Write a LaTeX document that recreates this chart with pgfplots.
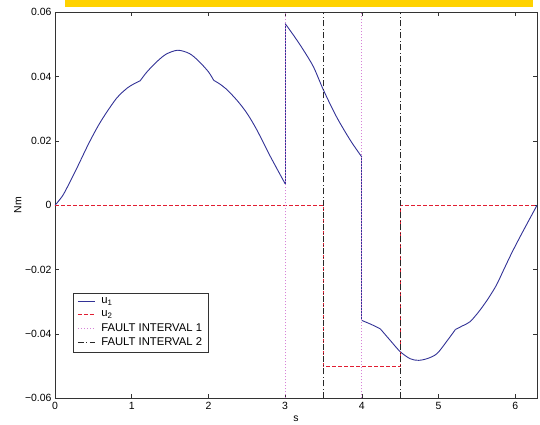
\documentclass[border=0pt]{standalone}
\usepackage{fontspec}
\setmainfont{Liberation Sans}
\usepackage{pgfplots}
\pgfplotsset{compat=1.18}

\definecolor{ucolA}{RGB}{50,50,150}
\definecolor{ucolB}{RGB}{225,30,50}
\definecolor{faultA}{RGB}{215,130,215}
\definecolor{faultB}{RGB}{40,40,40}
\definecolor{banner}{RGB}{255,210,0}

\pgfplotsset{
  u1 style/.style={ucolA, line width=0.9bp, line join=round},
  u1 piece/.style={u1 style, smooth, tension=0.5, forget plot},
}

\begin{document}
\begin{tikzpicture}
\begin{axis}[
  name=ax,
  scale only axis,
  width=482bp, height=386bp,
  xmin=0, xmax=6.2832,
  ymin=-0.06, ymax=0.06,
  xtick={0,1,2,3,4,5,6},
  ytick={-0.06,-0.04,-0.02,0,0.02,0.04,0.06},
  yticklabels={−0.06,−0.04,−0.02,0,0.02,0.04,0.06},
  /pgf/number format/assume math mode=true,
  tick label style={font=\fontsize{10.5}{12}\selectfont},
  tick align=inside,
  major tick length=4bp,
  xtick pos=both, ytick pos=both,
  axis line style={black!80, line width=0.6bp},
  every tick/.style={black!80, line width=0.5bp},
  xlabel={s}, ylabel={Nm},
  label style={font=\fontsize{10.5}{12}\selectfont},
  xlabel style={at={(axis description cs:0.5,-0.052)}, anchor=center},
  ylabel style={at={(axis description cs:-0.077,0.5)}, anchor=center},
  legend style={at={(rel axis cs:0.0373,0.2736)}, anchor=north west,
    draw=black!80, line width=0.5bp, font=\fontsize{11.3}{13}\selectfont,
    inner xsep=4bp, inner ysep=2.5bp, row sep=1.5bp,
    /tikz/every odd column/.append style={column sep=4bp}},
  legend image code/.code={\draw[#1] (0cm,0cm) -- (0.6cm,0cm);},
  legend cell align=left,
  clip=true,
]
% u1: motor torque, one smooth piece between each pair of corners
\addplot[u1 style, smooth, tension=0.5] coordinates {
(0,0) (0.1,0.0030) (0.2,0.0075) (0.3,0.0123) (0.45,0.0197) (0.6,0.0262)
(0.8,0.0332) (0.95,0.0366) (1.05,0.0380) (1.11,0.0387)};
\addlegendentry{u\textsubscript{1}}
\addplot[u1 piece] coordinates {
(1.11,0.0387) (1.2,0.0415) (1.33,0.0447) (1.45,0.0470) (1.6,0.0482)
(1.75,0.0472) (1.87,0.0449) (2.0,0.0415) (2.07,0.0388)};
\addplot[u1 piece] coordinates {
(2.07,0.0388) (2.13,0.0380) (2.23,0.0362) (2.37,0.0327) (2.5,0.0287)
(2.63,0.0235) (2.8,0.0155) (3.0,0.0067)};
\addplot[u1 style, forget plot] coordinates {(3.0,0.0067) (3.0,0.0565)};
\addplot[u1 piece] coordinates {
(3.0,0.0565) (3.12,0.0525) (3.24,0.0482) (3.37,0.0430) (3.5,0.0358)
(3.67,0.0275) (3.85,0.0202) (4.0,0.0150)};
\addplot[u1 style, forget plot] coordinates {(4.0,0.0150) (4.0,-0.0358)};
\addplot[u1 piece] coordinates {(4.0,-0.0358) (4.12,-0.0370) (4.24,-0.0384)};
\addplot[u1 piece] coordinates {
(4.24,-0.0384) (4.37,-0.0420) (4.5,-0.0455) (4.63,-0.0477) (4.74,-0.0482)
(4.86,-0.0476) (4.98,-0.0461) (5.1,-0.0425) (5.22,-0.0386)};
\addplot[u1 piece] coordinates {
(5.22,-0.0386) (5.31,-0.0375) (5.41,-0.0362) (5.52,-0.0332) (5.63,-0.0296)
(5.75,-0.0250) (5.85,-0.0200) (5.95,-0.0150) (6.06,-0.0099) (6.17,-0.0050)
(6.2832,0)};
% u2: second input
\addplot[ucolB, line width=1.1bp, dash pattern=on 4bp off 2bp] coordinates {
(0,0) (3.5,0) (3.5,-0.05) (4.5,-0.05) (4.5,0) (6.2832,0)
};
\addlegendentry{u\textsubscript{2}}
% fault interval 1
\addplot[faultA, line width=0.8bp, dash pattern=on 1bp off 2bp] coordinates {(3,-0.06) (3,0.06)};
\addlegendentry{FAULT INTERVAL 1}
% fault interval 2
\addplot[faultB, line width=0.7bp, dash pattern=on 6bp off 2.5bp on 1bp off 2.5bp] coordinates {(3.5,-0.06) (3.5,0.06)};
\addlegendentry{FAULT INTERVAL 2}
\addplot[faultA, line width=0.8bp, dash pattern=on 1bp off 2bp, forget plot] coordinates {(4,-0.06) (4,0.06)};
\addplot[faultB, line width=0.7bp, dash pattern=on 6bp off 2.5bp on 1bp off 2.5bp, forget plot] coordinates {(4.5,-0.06) (4.5,0.06)};
\end{axis}
\fill[banner] ([shift={(10bp,5.6bp)}]ax.north west) rectangle ([shift={(478bp,12.3bp)}]ax.north west);
\pgfresetboundingbox
\path[use as bounding box] ([shift={(-55bp,-26bp)}]ax.south west) rectangle ([shift={(3bp,12.3bp)}]ax.north east);
\end{tikzpicture}
\end{document}
